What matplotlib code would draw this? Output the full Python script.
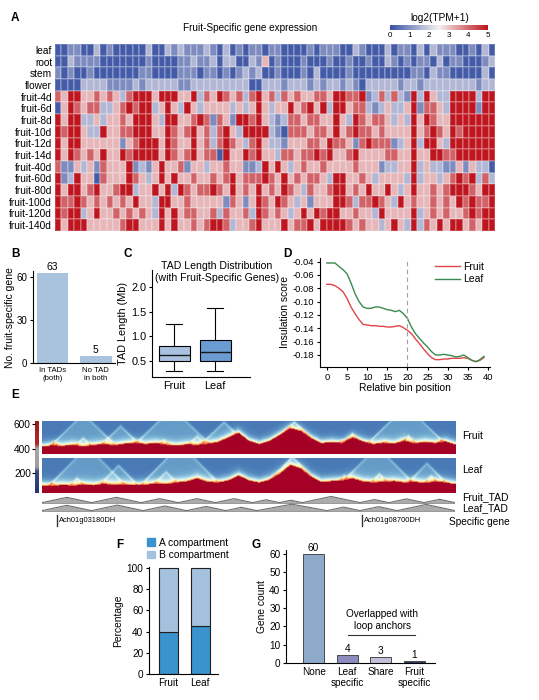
import numpy as np
import matplotlib
matplotlib.use('Agg')
import matplotlib.pyplot as plt
from matplotlib.colors import LinearSegmentedColormap, Normalize
from matplotlib.cm import ScalarMappable
from matplotlib.lines import Line2D
from matplotlib.patches import Patch

plt.rcParams['font.family'] = ['Liberation Sans', 'DejaVu Sans']
plt.rcParams['axes.linewidth'] = 0.8
for a in ('xtick', 'ytick'):
    plt.rcParams[a + '.major.width'] = 0.8
    plt.rcParams[a + '.major.size'] = 2.5
    plt.rcParams[a + '.major.pad'] = 1.5

# ---------------- DATA ----------------
# Panel A: expression level codes (0..5) per tissue row, 68 genes
tissues = ['leaf', 'root', 'stem', 'flower', 'fruit-4d', 'fruit-6d', 'fruit-8d',
           'fruit-10d', 'fruit-12d', 'fruit-14d', 'fruit-40d', 'fruit-60d',
           'fruit-80d', 'fruit-100d', 'fruit-120d', 'fruit-140d']
expr_codes = [
    "0011002010 0000200212 1112102010 1101100001 0111002100 0201102021 11001020",
    "0021111000 0000100001 1211202200 2130100010 0010010010 0210101102 01100012",
    "1010010000 0001100001 1101101012 1200100010 2000010000 0000011021 10000020",
    "0000222211 1121222221 1222222222 0022212221 2122121022 2221221222 22222122",
    "4355334343 2455535553 3524354342 4534243433 4435544512 4242152532 25555255",
    "0354344223 4545523532 5323333232 3532335345 3525534421 2322351443 25555155",
    "5355223233 4355532553 3454143155 4532124434 4335325434 4323253543 35555555",
    "5455322533 4455533543 4534245325 5552104443 4435345443 4333353454 35455555",
    "5355333333 1345553543 3534245432 4532213334 4354431454 4412352553 25555555",
    "5354343533 5455553543 4534405335 4533244344 5453345333 3443353355 44555555",
    "4113231433 3512135334 1332334331 1253532343 3433334333 1223352322 11313220",
    "5125330433 3543235353 3433434534 4454353434 4325533432 3333252332 34545242",
    "5355345334 5523353525 4344543534 3534354324 3345534353 3532353343 45554355",
    "5445434343 4353325533 4333331431 3543543231 3335542445 4325343343 43545445",
    "5455235334 3434325353 4433424334 2543432353 5455334332 5333352343 43345455",
    "5355533333 4553335353 3434554233 4533353445 3555543433 2353252435 35534355",
]
level_values = [0.15, 0.9, 1.6, 3.15, 4.1, 4.95]
n_genes = 68

# Panel B
tad_groups = ['In TADs\n(both)', 'No TAD\nin both']
tad_counts = [63, 5]

# Panel C (box statistics, Mb)
box_groups = ['Fruit', 'Leaf']
box_q1 = [0.49, 0.50]
box_med = [0.62, 0.68]
box_q3 = [0.81, 0.93]
box_lo = [0.29, 0.29]
box_hi = [1.25, 1.57]

# Panel D
bins = list(range(40))
fruit_ins = [-0.074, -0.074, -0.076, -0.080, -0.085, -0.095, -0.108, -0.118, -0.127, -0.134,
             -0.135, -0.136, -0.136, -0.137, -0.137, -0.138, -0.138, -0.137, -0.136, -0.139,
             -0.143, -0.148, -0.156, -0.163, -0.171, -0.178, -0.184, -0.187, -0.187, -0.186,
             -0.186, -0.185, -0.185, -0.185, -0.184, -0.185, -0.188, -0.190, -0.188, -0.184]
leaf_ins = [-0.042, -0.042, -0.042, -0.047, -0.052, -0.058, -0.072, -0.088, -0.100, -0.108,
            -0.110, -0.110, -0.108, -0.108, -0.110, -0.112, -0.113, -0.115, -0.113, -0.118,
            -0.125, -0.138, -0.148, -0.155, -0.162, -0.168, -0.175, -0.180, -0.180, -0.179,
            -0.180, -0.181, -0.183, -0.182, -0.180, -0.184, -0.188, -0.190, -0.187, -0.182]

# Panel E: height of the saturated (red) contact band, as fraction of strip height,
# read every 2.5% of the region width
band_pos = [i * 0.025 for i in range(41)]
fruit_band = [0.22, 0.26, 0.24, 0.28, 0.22, 0.27, 0.30, 0.26, 0.31, 0.34, 0.30, 0.33, 0.28,
              0.25, 0.29, 0.27, 0.31, 0.36, 0.50, 0.64, 0.40, 0.30, 0.40, 0.58, 0.78, 0.70,
              0.48, 0.33, 0.36, 0.33, 0.50, 0.38, 0.30, 0.34, 0.31, 0.40, 0.32, 0.36, 0.33,
              0.38, 0.28]
leaf_band = [0.22, 0.20, 0.23, 0.21, 0.24, 0.22, 0.26, 0.23, 0.25, 0.22, 0.24, 0.27, 0.25,
             0.30, 0.33, 0.42, 0.32, 0.30, 0.36, 0.50, 0.36, 0.30, 0.38, 0.56, 0.80, 0.70,
             0.46, 0.32, 0.34, 0.36, 0.42, 0.33, 0.30, 0.32, 0.34, 0.30, 0.32, 0.28, 0.33,
             0.30, 0.25]
# domains visible as triangles in the contact maps (start, end fraction)
fruit_domains = [(0.0, 0.06), (0.06, 0.14), (0.12, 0.26), (0.26, 0.33), (0.33, 0.42),
                 (0.42, 0.51), (0.44, 0.50), (0.51, 0.56), (0.53, 0.69), (0.69, 0.76),
                 (0.70, 0.80), (0.80, 0.86), (0.84, 0.93), (0.93, 1.0), (0.0, 0.20),
                 (0.20, 0.43), (0.76, 1.0), (0.36, 0.52)]
leaf_domains = [(0.0, 0.05), (0.05, 0.12), (0.12, 0.25), (0.25, 0.35), (0.35, 0.40),
                (0.40, 0.45), (0.45, 0.52), (0.52, 0.69), (0.55, 0.66), (0.69, 0.77),
                (0.72, 0.78), (0.77, 0.86), (0.86, 1.0), (0.90, 0.98), (0.0, 0.22),
                (0.22, 0.45), (0.70, 0.92)]
fruit_tad_bounds = [0.0, 0.12, 0.24, 0.33, 0.42, 0.51, 0.575, 0.63, 0.77, 0.84, 0.925, 1.0]
leaf_tad_bounds = [0.0, 0.12, 0.245, 0.35, 0.445, 0.52, 0.69, 0.77, 0.86, 1.0]
genes = ['Ach01g03180DH', 'Ach01g08700DH']
gene_pos = [0.036, 0.775]

# Panel F
comp_groups = ['Fruit', 'Leaf']
comp_a = [39.5, 45.5]
comp_b = [60.5, 54.5]

# Panel G
loop_groups = ['None', 'Leaf\nspecific', 'Share', 'Fruit\nspecific']
loop_counts = [60, 4, 3, 1]

# ---------------- FIGURE ----------------
W, H = 539, 700
fig = plt.figure(figsize=(W / 100, H / 100), dpi=100)


def rect(x0, y0, x1, y1):
    return [x0 / W, 1 - y1 / H, (x1 - x0) / W, (y1 - y0) / H]


def ftext(x, y, s, **kw):
    fig.text(x / W, 1 - y / H, s, **kw)


def letter(x, y, s):
    ftext(x, y, s, fontsize=8.5, fontweight='bold', ha='center', va='center')


# ---- Panel A ----
cmapA = LinearSegmentedColormap.from_list('bwr_pheat', ['#3a52a3', '#f5f1f0', '#bd111b'])
mat = np.array([[level_values[int(c)] for c in (r.replace(' ', '') + '3' * n_genes)[:n_genes]]
                for r in expr_codes])
axA = fig.add_axes(rect(55, 44, 495, 231))
axA.pcolormesh(np.arange(n_genes + 1), np.arange(len(tissues) + 1), mat, cmap=cmapA,
               vmin=0, vmax=5, edgecolors=(1, 1, 1, 0.2), linewidth=0.3)
axA.set_ylim(len(tissues), 0)
axA.set_xlim(0, n_genes)
axA.set_yticks(np.arange(len(tissues)) + 0.5)
axA.set_yticklabels(tissues, fontsize=7.3)
axA.tick_params(axis='y', length=0, pad=2)
axA.set_xticks([])
for s in axA.spines.values():
    s.set_visible(False)
letter(15, 18, 'A')
ftext(250, 28, 'Fruit-Specific gene expression', fontsize=7.2, ha='center', va='center')
caxA = fig.add_axes(rect(390, 25, 488, 30))
cb = fig.colorbar(ScalarMappable(norm=Normalize(0, 5), cmap=cmapA), cax=caxA,
                  orientation='horizontal', ticks=range(6))
cb.outline.set_visible(False)
caxA.tick_params(labelsize=5.8, length=0, pad=1.5)
ftext(440, 18, 'log2(TPM+1)', fontsize=7.3, ha='center', va='center')

# ---- Panel B ----
axB = fig.add_axes(rect(33, 271.3, 115, 363))
xb = np.arange(len(tad_counts))
axB.bar(xb, tad_counts, width=0.72, color='#a9c3df')
for x, v in zip(xb, tad_counts):
    axB.text(x, v + 0.8, str(v), ha='center', va='bottom', fontsize=7.5)
axB.set_ylim(0, 64)
axB.set_xlim(-0.45, 1.44)
axB.set_yticks([0, 30, 60])
axB.tick_params(axis='y', labelsize=7)
axB.set_xticks(xb)
axB.set_xticklabels(tad_groups, fontsize=5.6, linespacing=1.15)
axB.tick_params(axis='x', length=0, pad=3)
axB.spines[['top', 'right']].set_visible(False)
axB.set_ylabel('No. fruit-specific gene', fontsize=7.5)
axB.yaxis.set_label_coords(-0.22, 0.5)
letter(15, 254, 'B')

# ---- Panel C ----
axC = fig.add_axes(rect(152, 270, 250, 377))
stats = [dict(med=m, q1=a, q3=b, whislo=lo, whishi=hi, fliers=[])
         for m, a, b, lo, hi in zip(box_med, box_q1, box_q3, box_lo, box_hi)]
bp = axC.bxp(stats, positions=[1, 2], widths=0.76, patch_artist=True, showfliers=False,
             capwidths=0.38, boxprops=dict(linewidth=0.8),
             medianprops=dict(color='#1a1a1a', linewidth=1.0),
             whiskerprops=dict(linewidth=0.8), capprops=dict(linewidth=0.8))
for patch, col in zip(bp['boxes'], ['#a9c2e0', '#6a9bd2']):
    patch.set_facecolor(col)
axC.set_ylim(0.17, 2.35)
axC.set_xlim(0.46, 2.85)
axC.set_yticks([0.5, 1.0, 1.5, 2.0])
axC.set_yticklabels(['0.5', '1.0', '1.5', '2.0'])
axC.set_xticks([1, 2])
axC.set_xticklabels(box_groups)
axC.tick_params(labelsize=7.8)
axC.tick_params(axis='x', length=0, pad=3)
axC.spines[['top', 'right']].set_visible(False)
axC.set_ylabel('TAD Length (Mb)', fontsize=7.8)
axC.yaxis.set_label_coords(-0.245, 0.5)
ftext(217, 272, 'TAD Length Distribution\n(with Fruit-Specific Genes)', fontsize=7.6,
      ha='center', va='center', linespacing=1.25)
letter(128, 254, 'C')

# ---- Panel D ----
axD = fig.add_axes(rect(320, 258, 490, 367))
axD.plot(bins, fruit_ins, color='#e3434b', lw=1.0, label='Fruit')
axD.plot(bins, leaf_ins, color='#3b8a4d', lw=1.0, label='Leaf')
axD.axvline(20, color='#a0a0a0', lw=0.8, ls=(0, (4, 3)))
axD.set_xlim(-1.7, 40.5)
axD.set_ylim(-0.198, -0.0345)
axD.set_xticks(range(0, 41, 5))
yt = [-0.18, -0.16, -0.14, -0.12, -0.10, -0.08, -0.06, -0.04]
axD.set_yticks(yt)
axD.set_yticklabels([f'{v:.2f}' for v in yt])
axD.tick_params(labelsize=6.8)
axD.spines[['top', 'right']].set_visible(False)
axD.set_xlabel('Relative bin position', fontsize=7.4, labelpad=1)
axD.set_ylabel('Insulation score', fontsize=7.4)
axD.yaxis.set_label_coords(-0.176, 0.5)
axD.legend(loc='upper right', bbox_to_anchor=(1.0, 1.02), frameon=False, fontsize=7.5,
           handlelength=2.4, handletextpad=0.3, labelspacing=0.2, borderpad=0.1)
letter(287, 254, 'D')

# ---- Panel E ----
letter(15, 395, 'E')


def hic_matrix(band, domains, ncols=413, nrows=34):
    X = np.arange(ncols) + 0.5
    Y = np.arange(nrows) + 0.5
    XX, YY = np.meshgrid(X, Y)
    red_top = np.interp(X / ncols, band_pos, band) * nrows
    d = YY - red_top[None, :]
    dp = np.clip(d, 0, None)
    val = 0.11 + 0.62 * np.exp(-dp / 2.6)
    for a, b in domains:
        mid = (a + b) / 2 * ncols
        half = (b - a) / 2 * ncols
        inside = half - np.abs(XX - mid) - YY
        edge = np.exp(-np.abs(inside) / 1.0) * (0.1 + 0.2 * np.exp(-dp / 9.0))
        val = val + np.where(inside > 0, 0.06, 0.0) + edge
    val = np.clip(val, 0, 0.8)
    val = np.where(d <= 0, 1.0, val)
    return val


for (y0, y1, band, doms, name, ly) in [
        (421, 454, fruit_band, fruit_domains, 'Fruit', 436),
        (458, 493, leaf_band, leaf_domains, 'Leaf', 470)]:
    ax = fig.add_axes(rect(42, y0, 455, y1))
    ax.imshow(hic_matrix(band, doms), origin='lower', aspect='auto', cmap='RdYlBu_r',
              vmin=0, vmax=1, extent=(0, 1, 0, 1), interpolation='bilinear')
    ax.set_axis_off()
    ftext(462, ly, name, fontsize=7.5, ha='left', va='center')

cmapE = LinearSegmentedColormap.from_list('hicbar', [(0, '#28336c'), (0.3, '#3a4d88'),
                                                     (0.36, '#9e9e9e'), (0.62, '#a6a6a6'),
                                                     (0.68, '#b3262b'), (1, '#9a1b1f')])
axEc = fig.add_axes(rect(35, 421, 38.5, 493))
axEc.imshow(np.linspace(0, 1, 256).reshape(-1, 1), origin='lower', aspect='auto', cmap=cmapE,
            extent=(0, 1, 40, 624))
axEc.set_ylim(40, 624)
axEc.set_xticks([])
axEc.set_yticks([200, 400, 600])
axEc.tick_params(axis='y', labelsize=7.3, length=2, pad=1)
for s in axEc.spines.values():
    s.set_visible(False)

axT = fig.add_axes(rect(42, 495, 455, 512))
for bounds, base in [(fruit_tad_bounds, 0.55), (leaf_tad_bounds, 0.08)]:
    xs = [bounds[0]]
    ys = [base]
    for a, b in zip(bounds[:-1], bounds[1:]):
        xs += [(a + b) / 2, b]
        ys += [base + min(0.38, (b - a) * 2.6), base]
    axT.fill_between(xs, base, ys, color='#ababab', lw=0)
    axT.plot(xs, ys, color='#6e6e6e', lw=0.8)
    axT.plot([0, 1], [base, base], color='#8a8a8a', lw=0.6)
axT.set_xlim(0, 1)
axT.set_ylim(0, 1)
axT.set_axis_off()
ftext(462, 497, 'Fruit_TAD', fontsize=7.5, ha='left', va='center')
ftext(462, 508, 'Leaf_TAD', fontsize=7.5, ha='left', va='center')

axG = fig.add_axes(rect(42, 513, 455, 528))
for g, p in zip(genes, gene_pos):
    axG.plot([p, p], [0.15, 0.85], color='#333333', lw=1.0)
    axG.text(p + 0.004, 0.5, g, fontsize=5.4, ha='left', va='center')
axG.set_xlim(0, 1)
axG.set_ylim(0, 1)
axG.set_axis_off()
ftext(449, 522, 'Specific gene', fontsize=7.3, ha='left', va='center')

# ---- Panel F ----
axF = fig.add_axes(rect(149, 567, 218, 674))
xf = np.arange(len(comp_groups))
axF.bar(xf, comp_a, width=0.6, color='#3a93cc', edgecolor='#1f1f1f', linewidth=0.8)
axF.bar(xf, comp_b, width=0.6, bottom=comp_a, color='#a4c2de', edgecolor='#1f1f1f',
        linewidth=0.8)
axF.set_ylim(0, 101)
axF.set_xlim(-0.6, 1.55)
axF.set_yticks(range(0, 101, 20))
axF.set_xticks(xf)
axF.set_xticklabels(comp_groups)
axF.tick_params(labelsize=7.2)
axF.tick_params(axis='x', length=0, pad=3)
axF.spines[['top', 'right']].set_visible(False)
axF.set_ylabel('Percentage', fontsize=7.4)
axF.yaxis.set_label_coords(-0.37, 0.5)
fig.legend(handles=[Patch(color='#3a93cc', label='A compartment'),
                    Patch(color='#a4c2de', label='B compartment')],
           loc='upper left', bbox_to_anchor=(147 / W, 1 - 538 / H), frameon=False,
           fontsize=7.4, handlelength=0.8, handleheight=0.8, handletextpad=0.4,
           labelspacing=0.2, borderpad=0, borderaxespad=0)
letter(120, 545, 'F')

# ---- Panel G ----
axGc = fig.add_axes(rect(286, 549.5, 435, 662.7))
xg = np.arange(len(loop_counts))
axGc.bar(xg, loop_counts, width=0.62, color=['#8eaacb', '#8b8cbd', '#c6bfdc', '#2d3a6c'],
         edgecolor='#4a4a4a', linewidth=0.7)
for x, v in zip(xg, loop_counts):
    axGc.text(x, v + 0.6, str(v), ha='center', va='bottom', fontsize=7.3)
axGc.set_ylim(0, 62.5)
axGc.set_xlim(-0.82, 3.61)
axGc.set_yticks(range(0, 61, 10))
axGc.set_xticks(xg)
axGc.set_xticklabels(loop_groups, linespacing=1.1)
axGc.tick_params(labelsize=7.2)
axGc.tick_params(axis='x', length=0, pad=3)
axGc.spines[['top', 'right']].set_visible(False)
axGc.set_ylabel('Gene count', fontsize=7.4)
axGc.yaxis.set_label_coords(-0.125, 0.5)
ftext(382, 620, 'Overlapped with\nloop anchors', fontsize=7.2, ha='center', va='center',
      linespacing=1.2)
fig.add_artist(Line2D([348 / W, 415 / W], [1 - 635 / H, 1 - 635 / H], color='#333333',
                      lw=0.8))
letter(256, 545, 'G')

fig.savefig('out.png', dpi=100)
